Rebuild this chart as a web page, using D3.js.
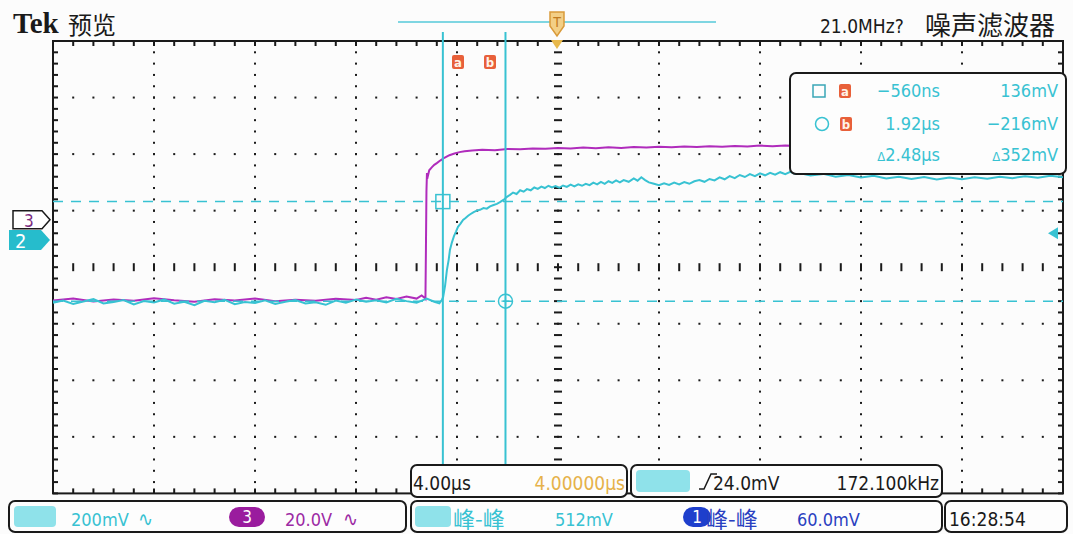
<!DOCTYPE html>
<html>
<head>
<meta charset="utf-8">
<script src="https://cdn.jsdelivr.net/npm/d3@7"></script>
<style>
  html, body { margin: 0; padding: 0; background: #fff; }
  svg { display: block; }
  text { font-family: "Liberation Sans Narrow", "DejaVu Sans Condensed", "Liberation Sans", sans-serif; }
  .cjk { font-family: "Noto Sans CJK SC", sans-serif; }
  .serif { font-family: "Liberation Serif", "DejaVu Serif", serif; }
</style>
</head>
<body>
<svg id="scope"></svg>
<script>
// channel 2 (cyan) trace: [time in us, mV]
const ch2Trace = [
  [-16.0, -222], [-15.6, -214], [-15.2, -226], [-14.8, -217], [-14.4, -209], [-14.0, -224],
  [-13.6, -219], [-13.2, -212], [-12.8, -228], [-12.4, -216], [-12.0, -221], [-11.6, -210],
  [-11.2, -225], [-10.8, -218], [-10.4, -230], [-10.0, -215], [-9.6, -220], [-9.2, -211],
  [-8.8, -227], [-8.4, -219], [-8.0, -223], [-7.6, -213], [-7.2, -226], [-6.8, -218],
  [-6.4, -212], [-6.0, -224], [-5.6, -220], [-5.2, -229], [-4.8, -214], [-4.4, -222],
  [-4.0, -210], [-3.6, -218], [-3.2, -213], [-2.8, -221], [-2.4, -208], [-2.0, -216],
  [-1.6, -222], [-1.2, -207], [-0.9, -218], [-0.7, -224], [-0.6, -212], [-0.55, -202],
  [-0.47, -160], [-0.40, -106], [-0.33, -70], [-0.28, -35], [-0.20, -8], [-0.12, 14],
  [-0.04, 30], [0.04, 47], [0.14, 58], [0.24, 71], [0.34, 78], [0.44, 86], [0.54, 92],
  [0.66, 99], [0.78, 104], [0.91, 107], [1.05, 113], [1.18, 111], [1.31, 119], [1.45, 124],
  [1.58, 128], [1.70, 134], [1.84, 142], [1.98, 153], [2.10, 160], [2.22, 168], [2.36, 163],
  [2.50, 176], [2.64, 171], [2.77, 180], [2.92, 176], [3.06, 186], [3.20, 181], [3.34, 189],
  [3.48, 184], [3.62, 192], [3.76, 186], [3.90, 191], [4.05, 185], [4.20, 193], [4.35, 188],
  [4.50, 196], [4.65, 190], [4.80, 197], [4.95, 192], [5.10, 199], [5.25, 194], [5.40, 203],
  [5.55, 197], [5.70, 206], [5.85, 199], [6.00, 208], [6.15, 202], [6.30, 211], [6.45, 204],
  [6.60, 212], [6.80, 206], [7.00, 218], [7.15, 210], [7.30, 222], [7.45, 212], [7.60, 204],
  [7.80, 199], [8.00, 194], [8.20, 201], [8.40, 195], [8.60, 203], [8.80, 197], [9.00, 205],
  [9.20, 199], [9.40, 208], [9.60, 212], [9.80, 206], [10.0, 216], [10.2, 211], [10.4, 222],
  [10.6, 215], [10.8, 226], [11.0, 219], [11.2, 230], [11.4, 223], [11.6, 233], [11.8, 226],
  [12.0, 236], [12.2, 229], [12.4, 238], [12.6, 231], [12.8, 240], [13.0, 233], [13.2, 241],
  [13.4, 234], [13.6, 236], [14.0, 228], [14.5, 234], [15.0, 224], [15.5, 230], [16.0, 221],
  [16.5, 227], [17.0, 218], [17.5, 224], [18.0, 216], [18.5, 223], [19.0, 214], [19.5, 221],
  [20.0, 215], [20.5, 222], [21.0, 217], [21.5, 224], [22.0, 219], [22.5, 226], [23.0, 220],
  [23.5, 227], [24.0, 222]
];

// channel 3 (magenta) trace: [time in us, V]
const ch3Trace = [
  [-16.0, -28.6], [-15.2, -27.9], [-14.4, -28.9], [-13.6, -28.2], [-12.8, -28.7], [-12.0, -27.8],
  [-11.2, -28.5], [-10.4, -29.0], [-9.6, -28.1], [-8.8, -28.6], [-8.0, -27.9], [-7.2, -28.8],
  [-6.4, -28.3], [-5.6, -28.7], [-4.8, -28.0], [-4.0, -28.4], [-3.6, -27.6], [-3.2, -28.3],
  [-2.8, -27.4], [-2.4, -28.0], [-2.0, -27.2], [-1.6, -27.9], [-1.40, -26.8], [-1.30, -27.5],
  [-1.25, -28.0], [-1.23, -10.0], [-1.21, 10.0], [-1.19, 16.5], [-1.15, 15.6], [-1.10, 17.5],
  [-1.00, 18.5], [-0.90, 19.4], [-0.80, 20.0], [-0.65, 21.0], [-0.50, 21.9], [-0.30, 22.8],
  [-0.10, 23.4], [0.10, 23.9], [0.30, 24.2], [0.60, 24.5], [1.00, 24.7], [1.50, 24.6],
  [2.00, 25.0], [2.50, 24.9], [3.00, 25.2], [3.50, 25.1], [4.00, 25.4], [4.50, 25.2],
  [5.00, 25.5], [5.50, 25.3], [6.00, 25.6], [6.50, 25.4], [7.00, 25.7], [7.50, 25.5],
  [8.00, 25.8], [8.50, 25.6], [9.00, 25.9], [9.50, 25.7], [10.0, 26.0], [10.5, 25.8],
  [11.0, 26.1], [11.5, 25.9], [12.0, 26.2], [12.5, 26.0], [13.0, 26.2], [13.5, 26.1],
  [14.0, 26.2], [16.0, 26.1], [18.0, 26.3], [20.0, 26.2], [22.0, 26.3], [24.0, 26.2]
];

// vertical settings (units per div and ground offset in div)
const ch2VoltsPerDiv = 200;   // mV
const ch2OffsetDiv = 0.48;
const ch3VoltsPerDiv = 20;    // V
const ch3OffsetDiv = 0.84;
const triggerLevel = 24;      // mV on ch2

// time base: 4 us/div, delay 4 us at centre
const timeDomain = [-16, 24];

// cursors
const cursorTimes = [-0.56, 1.92];      // us
const cursorLevels = [136, -216];       // mV on ch2

// readouts
const readoutTimes = ["\u2212560ns", "1.92\u00b5s", "2.48\u00b5s"];
const readoutLevels = ["136mV", "\u2212216mV", "352mV"];

const W = 1073, H = 534;
const svg = d3.select('#scope').attr('width', W).attr('height', H);

const gL = 53, gR = 1063, gT = 41, gB = 493.4;
const x = d3.scaleLinear().domain(timeDomain).range([gL, gR]);
const xDiv = d3.scaleLinear().domain([-5, 5]).range([gL, gR]);
const yDiv = d3.scaleLinear().domain([-4, 4]).range([gB, gT]);
const y2 = v => yDiv(v / ch2VoltsPerDiv + ch2OffsetDiv);
const y3 = v => yDiv(v / ch3VoltsPerDiv + ch3OffsetDiv);

const cyan = '#38c2d2', cyanLight = '#8fe2ea', magenta = '#b02cbc', ink = '#1a1a1a';

svg.append('rect').attr('width', W).attr('height', H).attr('fill', '#fcfcfc');

// ---- graticule ----
const grid = svg.append('g');
const minorX = d3.range(0, 51).map(i => -5 + i * 0.2);
const minorY = d3.range(0, 41).map(i => -4 + i * 0.2);

// dots along major vertical lines
[-4, -3, -2, -1, 1, 2, 3, 4].forEach(d => {
  minorY.slice(1, -1).forEach(m => {
    grid.append('rect').attr('x', xDiv(d) - 1).attr('y', yDiv(m) - 1)
      .attr('width', 2).attr('height', 2).attr('fill', ink);
  });
});
// dots along major horizontal lines
[-3, -2, -1, 1, 2, 3].forEach(d => {
  minorX.slice(1, -1).forEach(m => {
    grid.append('rect').attr('x', xDiv(m) - 1).attr('y', yDiv(d) - 1)
      .attr('width', 2).attr('height', 2).attr('fill', ink);
  });
});
// centre cross with small ticks
minorX.slice(1, -1).forEach(m => {
  grid.append('line').attr('x1', xDiv(m)).attr('x2', xDiv(m))
    .attr('y1', yDiv(0) - 4).attr('y2', yDiv(0) + 4)
    .attr('stroke', ink).attr('stroke-width', 2);
});
minorY.slice(1, -1).forEach(m => {
  grid.append('line').attr('y1', yDiv(m)).attr('y2', yDiv(m))
    .attr('x1', xDiv(0) - 4).attr('x2', xDiv(0) + 4)
    .attr('stroke', ink).attr('stroke-width', 2);
});
// edge ticks
minorX.forEach(m => {
  grid.append('line').attr('x1', xDiv(m)).attr('x2', xDiv(m)).attr('y1', gT).attr('y2', gT + 5)
    .attr('stroke', ink).attr('stroke-width', 2);
  grid.append('line').attr('x1', xDiv(m)).attr('x2', xDiv(m)).attr('y1', gB).attr('y2', gB - 5)
    .attr('stroke', ink).attr('stroke-width', 2);
});
minorY.forEach(m => {
  grid.append('line').attr('y1', yDiv(m)).attr('y2', yDiv(m)).attr('x1', gL).attr('x2', gL + 5)
    .attr('stroke', ink).attr('stroke-width', 2);
  grid.append('line').attr('y1', yDiv(m)).attr('y2', yDiv(m)).attr('x1', gR).attr('x2', gR - 5)
    .attr('stroke', ink).attr('stroke-width', 2);
});
grid.append('rect').attr('x', gL).attr('y', gT).attr('width', gR - gL).attr('height', gB - gT)
  .attr('fill', 'none').attr('stroke', ink).attr('stroke-width', 2);

// ---- traces ----
svg.append('clipPath').attr('id', 'clip').append('rect')
  .attr('x', gL).attr('y', gT).attr('width', gR - gL).attr('height', gB - gT);
const traces = svg.append('g').attr('clip-path', 'url(#clip)');

traces.append('path').datum(ch3Trace)
  .attr('d', d3.line().x(d => x(d[0])).y(d => y3(d[1])))
  .attr('fill', 'none').attr('stroke', magenta).attr('stroke-width', 2);
traces.append('path').datum(ch2Trace)
  .attr('d', d3.line().x(d => x(d[0])).y(d => y2(d[1])))
  .attr('fill', 'none').attr('stroke', cyan).attr('stroke-width', 2);

// ---- cursors ----
const cur = svg.append('g');
cursorLevels.forEach(v => {
  cur.append('line').attr('x1', gL).attr('x2', gR).attr('y1', y2(v)).attr('y2', y2(v))
    .attr('stroke', cyan).attr('stroke-width', 1.5).attr('stroke-dasharray', '10,8');
});
cursorTimes.forEach(t => {
  cur.append('line').attr('x1', x(t)).attr('x2', x(t)).attr('y1', 32).attr('y2', gB)
    .attr('stroke', cyan).attr('stroke-width', 2);
});
// square at cursor a, circle at cursor b
cur.append('rect').attr('x', x(cursorTimes[0]) - 7).attr('y', y2(cursorLevels[0]) - 7)
  .attr('width', 14).attr('height', 14).attr('fill', 'none').attr('stroke', cyan).attr('stroke-width', 1.5);
cur.append('circle').attr('cx', x(cursorTimes[1])).attr('cy', y2(cursorLevels[1])).attr('r', 7)
  .attr('fill', 'none').attr('stroke', cyan).attr('stroke-width', 1.5);
cur.append('path')
  .attr('d', `M${x(cursorTimes[1]) - 4},${y2(cursorLevels[1])}h8M${x(cursorTimes[1])},${y2(cursorLevels[1]) - 4}v8`)
  .attr('stroke', cyan).attr('stroke-width', 1.2);

function badge(g, cx, cy, letter) {
  g.append('rect').attr('x', cx - 6).attr('y', cy - 7).attr('width', 12).attr('height', 14).attr('rx', 2)
    .attr('fill', '#e8603a');
  g.append('text').attr('x', cx).attr('y', cy + 5).attr('text-anchor', 'middle')
    .attr('font-size', 13).attr('font-weight', 'bold').attr('fill', '#fff3e8').text(letter);
}
badge(cur, 458, 62, 'a');
badge(cur, 490, 62, 'b');

// ---- channel markers ----
const mk = svg.append('g');
const m3 = y3(0), m2 = y2(0);
mk.append('path').attr('d', `M13,${m3 - 9}H42L50,${m3}L42,${m3 + 9}H13Z`)
  .attr('fill', '#fff').attr('stroke', ink).attr('stroke-width', 1.5);
mk.append('text').attr('x', 24).attr('y', m3 + 7).attr('font-size', 17).attr('fill', '#7a2a80').text('3');
mk.append('path').attr('d', `M9,${m2 - 10}H41L50,${m2}L41,${m2 + 10}H9Z`).attr('fill', '#26bccc');
mk.append('text').attr('x', 15).attr('y', m2 + 8).attr('font-size', 20).attr('fill', '#fff').text('2');
// trigger level arrow on the right
const tl = y2(triggerLevel);
mk.append('path').attr('d', `M1048,${tl}L1058,${tl - 6}V${tl + 6}Z`).attr('fill', cyan);

// ---- top bar ----
const topBar = svg.append('g');
topBar.append('text').attr('class', 'serif').attr('x', 13).attr('y', 33)
  .attr('font-weight', 'bold').attr('font-size', 29).attr('fill', ink).text('Tek');
topBar.append('text').attr('class', 'cjk').attr('x', 68).attr('y', 34).attr('font-size', 24)
  .attr('fill', ink).text('预览');
topBar.append('line').attr('x1', 398).attr('x2', 716).attr('y1', 22).attr('y2', 22)
  .attr('stroke', '#7fd6e2').attr('stroke-width', 2);
topBar.append('path').attr('d', 'M550,12H564V26L557,36L550,26Z').attr('fill', '#f3cf86').attr('stroke', '#d99a3a').attr('stroke-width', 1.5);
topBar.append('text').attr('x', 557).attr('y', 27).attr('text-anchor', 'middle').attr('font-size', 14)
  .attr('fill', '#c07a20').text('T');
topBar.append('path').attr('d', `M551,${gT - 1}H563L557,${gT + 8}Z`).attr('fill', '#e8b84a');
topBar.append('text').attr('x', 820).attr('y', 33).attr('font-size', 19).attr('fill', ink).text('21.0MHz?');
topBar.append('text').attr('class', 'cjk').attr('x', 1055).attr('y', 35).attr('text-anchor', 'end')
  .attr('font-size', 26).attr('fill', ink).text('噪声滤波器');

// ---- cursor readout box ----
const rb = svg.append('g');
rb.append('rect').attr('x', 790).attr('y', 73).attr('width', 276).attr('height', 101).attr('rx', 6)
  .attr('fill', '#fdfdfd').attr('stroke', ink).attr('stroke-width', 2);
rb.append('rect').attr('x', 813).attr('y', 85).attr('width', 12).attr('height', 12)
  .attr('fill', 'none').attr('stroke', '#3aa6b6').attr('stroke-width', 1.5);
rb.append('circle').attr('cx', 822).attr('cy', 124).attr('r', 6.5)
  .attr('fill', 'none').attr('stroke', cyan).attr('stroke-width', 1.5);
badge(rb, 845, 91, 'a');
badge(rb, 846, 124, 'b');
const rowY = [97, 130, 161];
readoutTimes.forEach((s, i) => {
  const t = rb.append('text').attr('x', 940).attr('y', rowY[i]).attr('text-anchor', 'end')
    .attr('font-size', 18).attr('fill', cyan);
  if (i === 2) t.append('tspan').attr('font-size', 13).text('\u0394');
  t.append('tspan').text(s);
});
readoutLevels.forEach((s, i) => {
  const t = rb.append('text').attr('x', 1058).attr('y', rowY[i]).attr('text-anchor', 'end')
    .attr('font-size', 18).attr('fill', cyan);
  if (i === 2) t.append('tspan').attr('font-size', 13).text('\u0394');
  t.append('tspan').text(s);
});

// ---- status boxes ----
const sb = svg.append('g');
function box(x0, y0, w, h) {
  sb.append('rect').attr('x', x0).attr('y', y0).attr('width', w).attr('height', h).attr('rx', 6)
    .attr('fill', '#fdfdfd').attr('stroke', ink).attr('stroke-width', 2);
}
function txt(x0, y0, s, color, size, anchor, cls) {
  sb.append('text').attr('x', x0).attr('y', y0).attr('font-size', size || 19)
    .attr('fill', color).attr('text-anchor', anchor || 'start').attr('class', cls || null).text(s);
}
function swatch(x0, y0, w, h, color) {
  sb.append('rect').attr('x', x0).attr('y', y0).attr('width', w).attr('height', h).attr('rx', 4).attr('fill', color);
}
function pill(x0, y0, w, h, color, label) {
  sb.append('rect').attr('x', x0).attr('y', y0).attr('width', w).attr('height', h).attr('rx', h / 2).attr('fill', color);
  sb.append('text').attr('x', x0 + w / 2).attr('y', y0 + h - 4).attr('text-anchor', 'middle')
    .attr('font-size', 17).attr('fill', '#fff').text(label);
}

// row 1
box(411, 465, 216, 32);
txt(413, 490, '4.00\u00b5s', ink);
txt(625, 490, '4.00000\u00b5s', '#e6b24a', 19, 'end');
box(631, 465, 311, 32);
swatch(636, 470, 54, 22, cyanLight);
sb.append('path').attr('d', 'M699,489H704L711,474H717').attr('fill', 'none').attr('stroke', ink).attr('stroke-width', 1.5);
txt(713, 490, '24.0mV', ink);
txt(939, 490, '172.100kHz', ink, 19, 'end');

// row 2
box(9, 501, 397, 31);
swatch(14, 506, 42, 21, cyanLight);
txt(71, 526, '200mV', cyan, 18);
txt(138, 526, '\u223f', cyan, 20);
pill(229, 507, 36, 20, '#9a1c9e', '3');
txt(285, 526, '20.0V', '#9c2aa4', 18);
txt(343, 526, '\u223f', '#9c2aa4', 20);
box(411, 501, 531, 31);
swatch(415, 506, 36, 21, cyanLight);
txt(453, 527, '峰-峰', cyan, 22, 'start', 'cjk');
txt(555, 526, '512mV', cyan, 18);
pill(683, 507, 28, 20, '#1e3fcc', '1');
txt(706, 527, '峰-峰', '#2a40c0', 22, 'start', 'cjk');
txt(797, 526, '60.0mV', '#2a40c0', 18);
box(945, 501, 122, 31);
txt(949, 526, '16:28:54', ink);
</script>
</body>
</html>
